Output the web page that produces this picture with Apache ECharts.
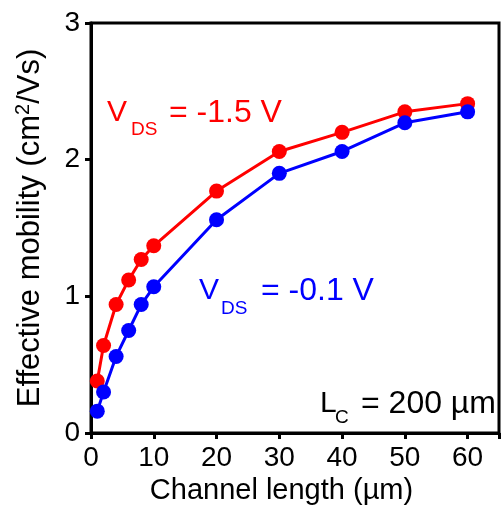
<!DOCTYPE html>
<html>
<head>
<meta charset="utf-8">
<script src="https://cdn.jsdelivr.net/npm/echarts@6/dist/echarts.min.js"></script>
<style>
  html, body { margin: 0; padding: 0; background: #fff; }
  #chart { width: 502px; height: 514px; }
</style>
</head>
<body>
<div id="chart"></div>
<script>
const channelLength = [1, 2, 4, 6, 8, 10, 20, 30, 40, 50, 60];
const mobilityVds15 = [0.38, 0.64, 0.94, 1.12, 1.27, 1.37, 1.77, 2.06, 2.20, 2.35, 2.41];
const mobilityVds01 = [0.16, 0.30, 0.56, 0.75, 0.94, 1.07, 1.56, 1.90, 2.06, 2.27, 2.35];

const FONT = '"Liberation Sans", Arial, sans-serif';

const chart = echarts.init(document.getElementById('chart'));

function pairs(xs, ys) {
    return xs.map((x, i) => [x, ys[i]]);
}

function label(left, top, text, size, color) {
    return { type: 'text', left: left, top: top, style: { text: text, font: size + 'px ' + FONT, fill: color } };
}

const option = {
    animation: false,
    backgroundColor: '#fff',
    grid: {
        left: 91,
        top: 23,
        right: 3,
        bottom: 81,
        show: true,
        borderColor: '#000',
        borderWidth: 3
    },
    xAxis: {
        type: 'value',
        min: 0,
        max: 65,
        interval: 10,
        name: 'Channel length (µm)',
        nameLocation: 'middle',
        nameGap: 31,
        nameTextStyle: { fontFamily: FONT, fontSize: 29, color: '#000', padding: [0, 27, 0, 0] },
        axisLine: { show: true, onZero: false, lineStyle: { color: '#000', width: 3 } },
        axisTick: { show: true, length: 6, lineStyle: { color: '#000', width: 3 } },
        axisLabel: {
            fontFamily: FONT, fontSize: 28, color: '#000', margin: 11,
            formatter: v => (v > 60 ? '' : v)
        },
        splitLine: { show: false }
    },
    yAxis: {
        type: 'value',
        min: 0,
        max: 3,
        interval: 1,
        name: 'Effective mobility (cm{sup|2}/Vs)',
        nameLocation: 'middle',
        nameGap: 44,
        nameTextStyle: {
            fontFamily: FONT, fontSize: 31, color: '#000',
            rich: {
                sup: { fontFamily: FONT, fontSize: 20, color: '#000', padding: [0, 0, 14, 0] }
            }
        },
        axisLine: { show: true, onZero: false, lineStyle: { color: '#000', width: 3 } },
        axisTick: { show: true, length: 6, lineStyle: { color: '#000', width: 3 } },
        axisLabel: { fontFamily: FONT, fontSize: 28, color: '#000', margin: 11 },
        splitLine: { show: false }
    },
    series: [
        {
            name: 'VDS = -1.5 V',
            type: 'line',
            data: pairs(channelLength, mobilityVds15),
            symbol: 'circle',
            symbolSize: 15,
            itemStyle: { color: '#ff0000' },
            lineStyle: { color: '#ff0000', width: 3 },
            z: 2
        },
        {
            name: 'VDS = -0.1 V',
            type: 'line',
            data: pairs(channelLength, mobilityVds01),
            symbol: 'circle',
            symbolSize: 15,
            itemStyle: { color: '#0000ff' },
            lineStyle: { color: '#0000ff', width: 3 },
            z: 3
        }
    ],
    graphic: [
        // V_DS = -1.5 V
        label(107, 98, 'V', 30, '#ff0000'),
        label(131, 120, 'DS', 19, '#ff0000'),
        label(169, 97, '= -1.5 V', 32, '#ff0000'),
        // V_DS = -0.1 V
        label(199, 276, 'V', 30, '#0000ff'),
        label(221, 299, 'DS', 19, '#0000ff'),
        label(261, 275, '= -0.1 V', 32, '#0000ff'),
        // L_C = 200 µm
        label(320, 389, 'L', 30, '#000'),
        label(335, 408, 'C', 19, '#000'),
        label(361, 388, '= 200 µm', 32, '#000')
    ]
};

chart.setOption(option);
</script>
</body>
</html>
